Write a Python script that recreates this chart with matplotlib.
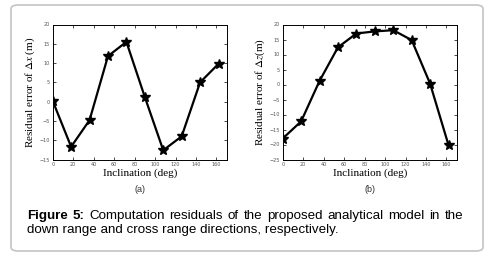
import matplotlib
matplotlib.use("Agg")
import matplotlib.pyplot as plt
from matplotlib.patches import FancyBboxPatch

incl = [0, 18, 36, 54, 72, 90, 108, 126, 144, 162]
res_x = [0.2, -11.7, -4.8, 11.8, 15.5, 1.2, -12.6, -9.0, 5.0, 9.8]
res_z = [-18.0, -12.3, 1.2, 12.4, 17.0, 17.7, 18.1, 14.8, 0.3, -20.2]
xticks = [0, 20, 40, 60, 80, 100, 120, 140, 160]
yticks_a = [-15, -10, -5, 0, 5, 10, 15, 20]
yticks_b = [-25, -20, -15, -10, -5, 0, 5, 10, 15, 20]

plt.rcParams["mathtext.fontset"] = "stix"

W, H = 495, 258
fig = plt.figure(figsize=(W / 100, H / 100), dpi=100)

# rounded frame around the whole figure
frame = FancyBboxPatch((11 / W, 1 - 251 / H), 472 / W, 246 / H,
                       boxstyle="round,pad=0,rounding_size=0.015",
                       transform=fig.transFigure, fill=False,
                       edgecolor="#c4c4c4", linewidth=1.2)
fig.patches.append(frame)

serif = ["Liberation Serif", "DejaVu Serif"]


def panel(left, data, yticks, ylabel, tag):
    ax = fig.add_axes([left / W, 1 - 159.5 / H, 174 / W, 135 / H])
    ax.plot(incl, data, color="black", linewidth=1.6, marker="*",
            markersize=7, markerfacecolor="black", markeredgecolor="black")
    ax.set_xlim(0, 170)
    ax.set_ylim(yticks[0], yticks[-1])
    ax.set_xticks(xticks)
    ax.set_yticks(yticks)
    ax.tick_params(direction="in", top=True, right=True, length=2,
                   width=0.5, labelsize=3.5, labelcolor="#555555", pad=2)
    for s in ax.spines.values():
        s.set_linewidth(0.7)
    ax.set_xlabel("Inclination (deg)", family=serif, fontsize=8, labelpad=1)
    ax.set_ylabel(ylabel, family=serif, fontsize=8, labelpad=2)
    fig.text((left + 87) / W, 1 - 190 / H, tag, ha="center", va="center",
             family=["Liberation Sans"], fontsize=6.5, color="#333333")
    return ax


panel(52.7, res_x, yticks_a, r"Residual error of $\Delta x$ (m)", "(a)")
panel(282.7, res_z, yticks_b, r"Residual error of $\Delta z$(m)", "(b)")

# caption, first line justified between the margins
x0, x1 = 27 / W, 463 / W
y1, y2 = 1 - 216 / H, 1 - 230 / H
fs = 9.6
words = ["Figure", "5:", "Computation", "residuals", "of", "the", "proposed",
         "analytical", "model", "in", "the"]
fig.canvas.draw()
r = fig.canvas.get_renderer()
objs = []
for i, w in enumerate(words):
    t = fig.text(0, y1, w, fontsize=fs, family=["Liberation Sans"],
                 fontweight="bold" if i < 2 else "normal", va="center")
    objs.append(t)
widths = [t.get_window_extent(r).width / W for t in objs]
gap = (x1 - x0 - sum(widths)) / (len(words) - 1)
pos = x0
for t, wd in zip(objs, widths):
    t.set_x(pos)
    pos += wd + gap
fig.text(x0, y2, "down range and cross range directions, respectively.",
         fontsize=fs, family=["Liberation Sans"], va="center")

fig.savefig("out.png", dpi=100)
